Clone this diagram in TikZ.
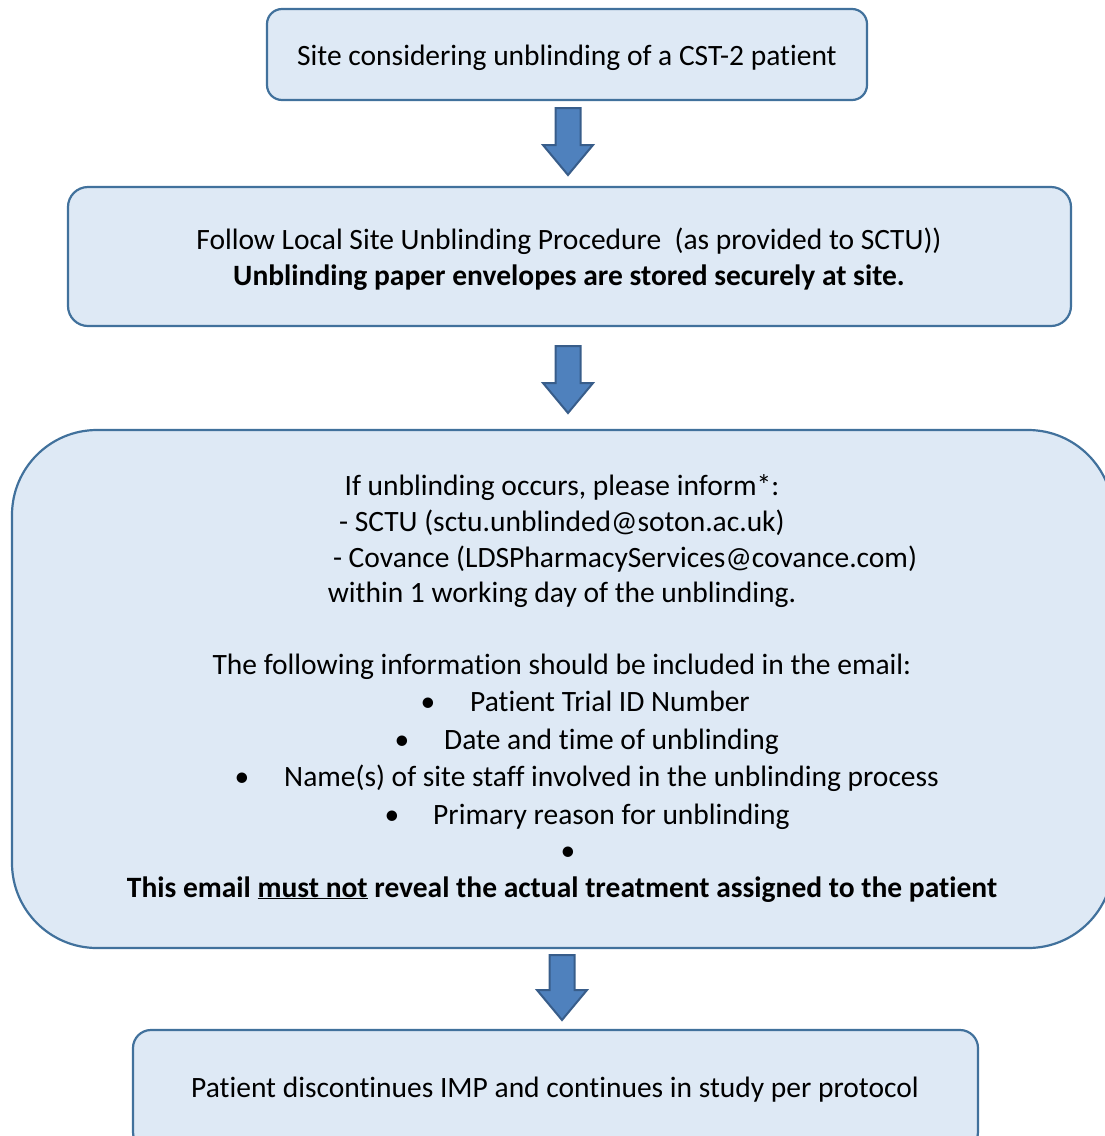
\documentclass[tikz,border=0pt]{standalone}
\usepackage{fontspec}
\setmainfont{Carlito}[Ligatures={NoCommon,NoDiscretionary,NoContextual}]
\definecolor{boxfill}{HTML}{DEE9F5}
\definecolor{boxline}{HTML}{41719C}
\definecolor{arrfill}{HTML}{4F81BD}
\definecolor{arrline}{HTML}{385D8A}
\begin{document}
\begin{tikzpicture}[x=1pt,y=1pt,
  box/.style={draw=boxline, fill=boxfill, line width=2.2pt, rectangle, inner sep=0pt},
  txt/.style={anchor=base, inner sep=0pt, font=\fontsize{29.5}{36}\selectfont},
  blockarrow/.style={draw=arrline, fill=arrfill, line width=2pt, line join=miter}]
\useasboundingbox (0,0) rectangle (1105,-1136);
\clip (0,0) rectangle (1105,-1136);
% boxes
\node[box, rounded corners=15pt, minimum width=600pt, minimum height=91pt] (b1) at (567,-54.5) {};
\node[box, rounded corners=20pt, minimum width=1003pt, minimum height=139pt] (b2) at (569.5,-256.5) {};
\node[box, rounded corners=85pt, minimum width=1101pt, minimum height=518pt] (b3) at (562.5,-689) {};
\node[box, rounded corners=18pt, minimum width=845pt, minimum height=120pt] (b4) at (555.5,-1090) {};
% block arrows
\newcommand{\blockarr}[4]{% x, top y, head y, tip y
  \draw[blockarrow] (#1-12.5,#2) -- (#1+12.5,#2) -- (#1+12.5,#3) -- (#1+25,#3) -- (#1,#4) -- (#1-25,#3) -- (#1-12.5,#3) -- cycle;}
\blockarr{568}{-108}{-145}{-175}
\blockarr{568}{-346}{-383}{-413}
\blockarr{562}{-955}{-990}{-1020}
% texts
\node[txt] (t1) at (567,-65) {Site considering unblinding of a CST-2 patient};
\node[txt] (t2a) at (569,-249) {Follow Local Site Unblinding Procedure\ \ (as provided to SCTU))};
\node[txt] (t2b) at (569,-285) {\bfseries Unblinding paper envelopes are stored securely at site.};
\node[txt] (t3a) at (562,-495) {If unblinding occurs, please inform*:};
\node[txt] (t3b) at (562,-531) {- SCTU (sctu.unblinded@soton.ac.uk)};
\node[txt] (t3c) at (625,-567) {- Covance (LDSPharmacyServices@covance.com)};
\node[txt] (t3d) at (562,-602) {within 1 working day of the unblinding.};
\node[txt] (t3e) at (562,-674) {The following information should be included in the email:};
\node[txt, anchor=base west] (l1) at (470,-711) {Patient Trial ID Number};
\node[txt, anchor=base west] (l2) at (444,-749) {Date and time of unblinding};
\node[txt, anchor=base west] (l3) at (284,-786) {Name(s) of site staff involved in the unblinding process};
\node[txt, anchor=base west] (l4) at (433,-824) {Primary reason for unblinding};
\node[txt] (u1) at (428,-711) {•};
\node[txt] (u2) at (402,-749) {•};
\node[txt] (u3) at (242,-786) {•};
\node[txt] (u4) at (392,-824) {•};
\node[txt] (u5) at (568,-860) {•};
\node[txt] (t3f) at (562,-897) {\bfseries This email \underline{must not} reveal the actual treatment assigned to the patient};
\node[txt] (t4) at (555,-1097) {Patient discontinues IMP and continues in study per protocol};
\end{tikzpicture}
\end{document}
